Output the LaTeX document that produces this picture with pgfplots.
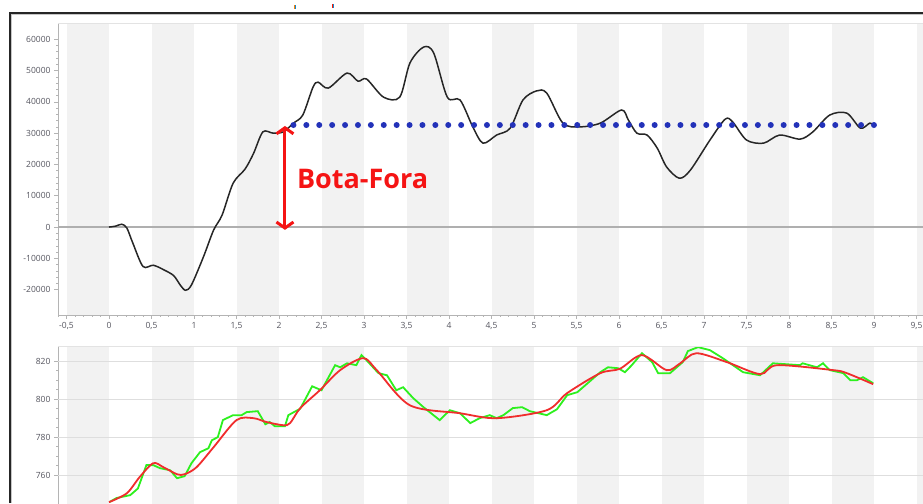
\documentclass[border=0pt]{standalone}
\usepackage{fontspec}
\setmainfont{Open Sans}
\usepackage{pgfplots}
\pgfplotsset{compat=1.18}
\usetikzlibrary{arrows.meta}

\definecolor{bandgray}{RGB}{242,242,242}
\definecolor{axisgray}{RGB}{180,180,180}
\definecolor{labelcol}{RGB}{85,85,95}
\definecolor{zerogray}{RGB}{175,175,175}
\definecolor{gridcol}{RGB}{222,222,222}
\definecolor{dotblue}{RGB}{35,50,185}
\definecolor{arrowred}{RGB}{245,20,20}
\definecolor{lgreen}{RGB}{45,240,30}
\definecolor{lred}{RGB}{240,45,45}

% alternating background stripes, 0.5 wide
\newcommand\bands[2]{%
  \fill[bandgray] (axis cs:-0.5,#1) rectangle (axis cs:0,#2);
  \fill[bandgray] (axis cs:0.5,#1) rectangle (axis cs:1,#2);
  \fill[bandgray] (axis cs:1.5,#1) rectangle (axis cs:2,#2);
  \fill[bandgray] (axis cs:2.5,#1) rectangle (axis cs:3,#2);
  \fill[bandgray] (axis cs:3.5,#1) rectangle (axis cs:4,#2);
  \fill[bandgray] (axis cs:4.5,#1) rectangle (axis cs:5,#2);
  \fill[bandgray] (axis cs:5.5,#1) rectangle (axis cs:6,#2);
  \fill[bandgray] (axis cs:6.5,#1) rectangle (axis cs:7,#2);
  \fill[bandgray] (axis cs:7.5,#1) rectangle (axis cs:8,#2);
  \fill[bandgray] (axis cs:8.5,#1) rectangle (axis cs:9,#2);
  \fill[bandgray] (axis cs:9.5,#1) rectangle (axis cs:10,#2);
}

\pgfplotsset{
  panel/.style={
    scale only axis,
    width=875.5pt,
    xmin=-0.6, xmax=9.7,
    axis x line*=bottom, axis y line*=left,
    axis line style={draw=axisgray, line width=0.8pt},
    every tick/.style={draw=axisgray, line width=0.6pt},
    tick align=outside,
    major tick length=4pt, minor tick length=2pt,
    ticklabel style={font=\fontsize{8.5}{10}\selectfont, text=labelcol},
    /pgf/number format/assume math mode=true,
    /pgf/number format/use comma,
    /pgf/number format/1000 sep={},
    scaled ticks=false,
  }
}

\begin{document}
\begin{tikzpicture}
\useasboundingbox (0,0) rectangle (923pt,503pt);
\clip (0,0) rectangle (923pt,503pt);
\fill[white] (0,0) rectangle (923pt,503pt);

% top panel
\begin{axis}[panel,
  at={(58pt,188pt)}, anchor=south west,
  height=292pt,
  ymin=-28100, ymax=65200,
  xtick distance=0.5, minor x tick num=4,
  ytick={-20000,-10000,...,60000}, minor y tick num=4,
]
\bands{-28100}{65200}
\draw[zerogray, line width=2pt] (axis cs:-1,0) -- (axis cs:10,0);
\addplot[black!85, line width=1.5pt, smooth] coordinates {
  (0,0) (0.08,300) (0.15,900) (0.21,-300) (0.28,-5100) (0.4,-12600)
  (0.52,-12200) (0.64,-13600) (0.76,-15500) (0.84,-18600) (0.9,-20200)
  (0.97,-18500) (1.11,-9600) (1.23,-1000) (1.33,3800) (1.46,14000)
  (1.6,18500) (1.7,23500) (1.81,30400) (1.93,30000) (2.05,30400)
  (2.17,33200) (2.28,35800) (2.4,44700) (2.46,46300) (2.58,44400)
  (2.8,49200) (2.93,46600) (3.03,47300) (3.23,41500) (3.42,41500)
  (3.54,52400) (3.7,57500) (3.82,55600) (3.98,41500) (4.13,40600)
  (4.28,32000) (4.4,26800) (4.56,29400) (4.72,31600) (4.87,40600)
  (5.03,43500) (5.15,42800) (5.34,33200) (5.54,32000) (5.78,33200)
  (6.03,37400) (6.11,34200) (6.21,30000) (6.33,29400) (6.45,25200)
  (6.56,19200) (6.71,15600) (6.84,18200) (7.07,27800) (7.25,34500)
  (7.34,33500) (7.5,27800) (7.7,26800) (7.89,29400) (8.13,28100)
  (8.28,30400) (8.48,35800) (8.68,36400) (8.84,31600) (8.95,33200)
  (9.0,32600)
};
\addplot[dotblue, line width=6pt, line cap=round, dash pattern=on 0pt off 12.9pt]
  coordinates {(2.17,32600) (9.0,32600)};
\draw[arrowred, line width=3pt,
  {Straight Barb[length=6pt,width=17pt]}-{Straight Barb[length=6pt,width=17pt]}]
  (axis cs:2.07,-900) -- (axis cs:2.07,32300);
\node[anchor=base west, inner sep=0pt, text=arrowred,
  font=\bfseries\fontsize{27}{30}\selectfont] at (axis cs:2.21,12460) {Bota-Fora};
\end{axis}

% bottom panel
\begin{axis}[panel,
  at={(58pt,157pt)}, anchor=north west,
  height=174.8pt,
  ymin=736, ymax=828,
  xtick distance=0.5, xticklabels={},
  ytick={760,780,800,820}, minor y tick num=3,
]
\bands{736}{828}
\draw[gridcol, line width=0.8pt] (axis cs:-1,760) -- (axis cs:10,760);
\draw[gridcol, line width=0.8pt] (axis cs:-1,780) -- (axis cs:10,780);
\draw[gridcol, line width=0.8pt] (axis cs:-1,800) -- (axis cs:10,800);
\draw[gridcol, line width=0.8pt] (axis cs:-1,820) -- (axis cs:10,820);
\addplot[lgreen, line width=1.8pt] coordinates {
  (0.01,746) (0.09,748) (0.25,749.5) (0.34,753) (0.44,765.3) (0.52,765.3)
  (0.6,763.7) (0.72,762.6) (0.8,758.4) (0.89,759.5) (0.97,766.3) (1.07,772.1)
  (1.17,774.2) (1.21,778.4) (1.28,780) (1.34,789) (1.46,791.6) (1.56,791.6)
  (1.62,793.2) (1.75,793.7) (1.84,786.8) (1.89,788) (1.95,785.8) (2.07,785.8)
  (2.11,791.6) (2.25,795) (2.39,806.8) (2.5,804.7) (2.66,817.9) (2.72,816.8)
  (2.8,818.9) (2.91,817.9) (2.97,823.2) (3.03,820.5) (3.17,813.7) (3.27,812.6)
  (3.38,804.7) (3.46,806.3) (3.58,800.5) (3.7,795.8) (3.89,789) (4.01,794.2)
  (4.13,792.6) (4.25,787.4) (4.36,790) (4.48,791.6) (4.56,790) (4.64,791.6)
  (4.75,795.3) (4.86,795.8) (4.95,793.7) (5.15,791.6) (5.27,794.7) (5.39,802.1)
  (5.51,803.7) (5.78,814.2) (5.87,816.8) (5.99,816.3) (6.07,814.2) (6.15,817.9)
  (6.27,824.2) (6.39,819.5) (6.46,813.7) (6.6,813.7) (6.75,819.5) (6.81,825.3)
  (6.93,827.4) (7.07,825.8) (7.22,821.6) (7.46,814.2) (7.66,812.6) (7.81,818.9)
  (8.13,817.9) (8.16,818.9) (8.28,817.4) (8.33,816.8) (8.4,818.9) (8.48,815.3)
  (8.64,813.7) (8.72,810) (8.8,810) (8.87,811.6) (8.99,808.4)
};
\addplot[lred, line width=1.8pt, smooth] coordinates {
  (0,745.8) (0.21,750.5) (0.36,759) (0.52,766.3) (0.64,764.2) (0.8,760.5)
  (0.89,760.5) (1.03,764.2) (1.23,774.7) (1.5,789) (1.7,790) (1.85,788)
  (2.05,786.3) (2.13,787.4) (2.25,795.3) (2.48,804.7) (2.72,815.3)
  (2.99,821.6) (3.15,815.3) (3.54,796.8) (4.13,792.6) (4.56,790)
  (5.15,794.2) (5.39,803.2) (5.78,813.7) (6.01,816) (6.27,823.2)
  (6.56,815.3) (6.72,818.9) (6.91,824.2) (7.27,819.5) (7.66,813.2)
  (7.86,817.9) (8.52,815.3) (8.68,813.7) (8.99,807.9)
};
\end{axis}

% plot-area top borders
\draw[gray!22, line width=0.8pt] (58pt,480pt) -- (923pt,480pt);
\draw[gray!22, line width=0.8pt] (58pt,157pt) -- (923pt,157pt);

% outer frame
\draw[black!85, line width=2pt] (9.5pt,0) -- (9.5pt,490pt) -- (923pt,490pt);
\draw[gray!45, line width=0.8pt] (11.2pt,0) -- (11.2pt,488.3pt) -- (923pt,488.3pt);

% small marks above the frame
\fill[orange] (294.3pt,494pt) rectangle (295.3pt,498pt);
\fill[cyan!70!blue] (295.3pt,494pt) rectangle (296.3pt,498pt);
\fill[red!80!orange] (332.3pt,495pt) rectangle (333.3pt,499pt);
\fill[cyan!70!blue] (333.3pt,495pt) rectangle (334.3pt,499pt);
\end{tikzpicture}
\end{document}
